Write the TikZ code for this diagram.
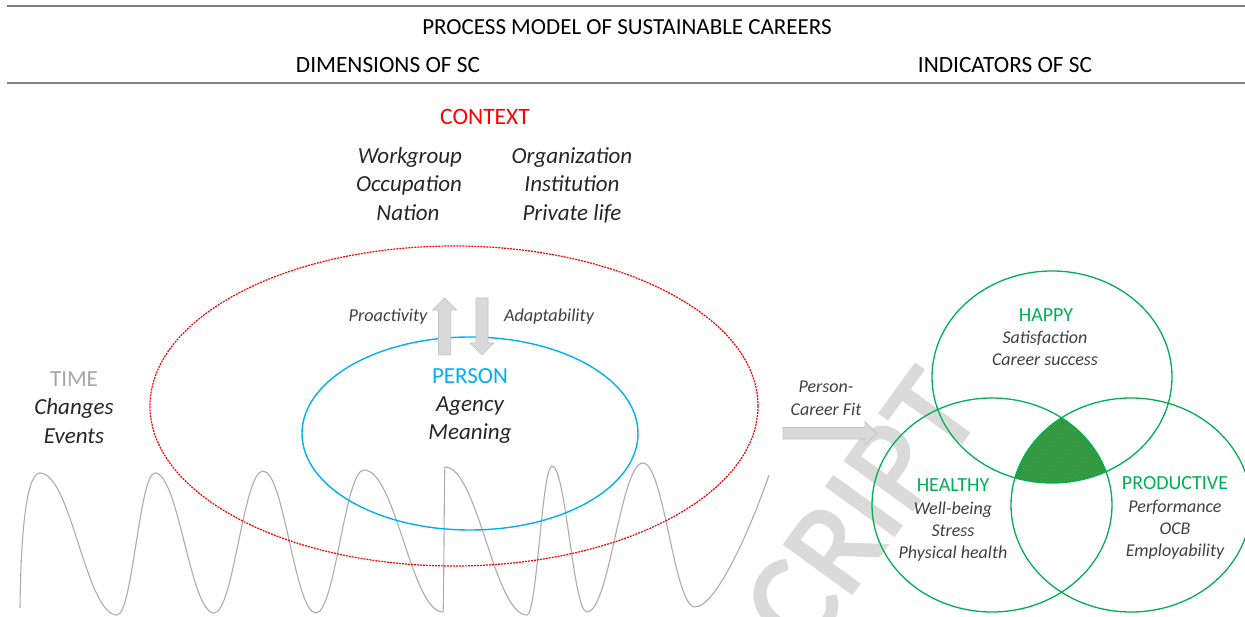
\documentclass[tikz,border=0pt]{standalone}
\usepackage{fontspec}
\setmainfont{Carlito}
\newfontfamily\wmfont[FakeBold=2]{Carlito}
\usetikzlibrary{patterns}
\definecolor{hdrline}{RGB}{128,128,128}
\definecolor{ctxred}{RGB}{255,0,0}
\definecolor{perblue}{RGB}{0,176,240}
\definecolor{scgreen}{RGB}{0,176,80}
\definecolor{timegray}{RGB}{166,166,166}
\definecolor{txtdark}{RGB}{38,38,38}
\definecolor{txtgray}{RGB}{64,64,64}
\definecolor{arrowfill}{RGB}{217,217,217}
\definecolor{arrowedge}{RGB}{195,195,195}
\definecolor{wmgray}{RGB}{218,218,218}
\definecolor{venncore}{RGB}{60,165,72}
\definecolor{vennhatch}{RGB}{40,130,52}
\definecolor{wavegray}{RGB}{172,172,172}
\begin{document}
\begin{tikzpicture}[x=1pt,y=-1pt,
  lbl/.style={inner sep=0pt, anchor=base},
  hdr/.style={lbl, font=\fontsize{23.3}{28}\selectfont, text=black},
  ctxitem/.style={lbl, font=\fontsize{23}{28}\selectfont\itshape, text=txtdark},
  small/.style={lbl, font=\fontsize{18.2}{22}\selectfont\itshape, text=txtgray},
  vennhead/.style={lbl, font=\fontsize{20}{24}\selectfont, text=scgreen},
  vennitem/.style={lbl, font=\fontsize{18}{22}\selectfont\itshape, text=txtgray},
  blockarrow/.style={fill=arrowfill, draw=arrowedge, line width=0.6pt},
  venn/.style={draw=scgreen, line width=1.3pt}
]
\useasboundingbox (0,0) rectangle (1245,617);
\clip (0,0) rectangle (1245,617);

% watermark
\begin{scope}[shift={(861,510)}]
\node[rotate=54, anchor=center, text=wmgray, inner sep=0pt,
      font=\wmfont\fontsize{130}{130}\selectfont] (wm) at (0,0) {CRIPT};
\end{scope}

% header
\coordinate (tl) at (7,6.5); \coordinate (tr) at (1245,6.5);
\coordinate (bl) at (7,83); \coordinate (br) at (1245,83);
\draw[hdrline, line width=2pt] (tl) -- (tr);
\draw[hdrline, line width=2pt] (bl) -- (br);
\node[hdr, font=\fontsize{23}{28}\selectfont] (title) at (627,34.3) {PROCESS MODEL OF SUSTAINABLE CAREERS};
\node[hdr] (dims) at (388,72.4) {DIMENSIONS OF SC};
\node[hdr] (inds) at (1005,72.4) {INDICATORS OF SC};

% context
\node[lbl, font=\fontsize{23.5}{28}\selectfont, text=ctxred] (context) at (485,124.4) {CONTEXT};
\node[ctxitem] (wg) at (410,164) {Workgroup};
\node[ctxitem] (occ) at (409,192) {Occupation};
\node[ctxitem] (nat) at (408,221) {Nation};
\node[ctxitem] (org) at (572,164) {Organization};
\node[ctxitem] (inst) at (572,192) {Institution};
\node[ctxitem] (priv) at (572,221) {Private life};

% wave (time)
\coordinate (w0) at (20,608);
\draw[wavegray, line width=1.1pt]
  (w0) .. controls (21,520) and (28,473) .. (40,473)
  .. controls (71,473) and (86,615) .. (117,615)
  .. controls (132.6,615) and (139.4,473) .. (155,473)
  .. controls (178.6,473) and (190.4,613) .. (214,613)
  .. controls (233.6,613) and (243.4,471) .. (263,471)
  .. controls (284.2,471) and (294.8,613) .. (316,613)
  .. controls (335.2,613) and (344.8,470) .. (364,470)
  .. controls (395.6,470) and (411.4,612) .. (443,612)
  .. controls (443.8,612) and (444.2,467) .. (445,467)
  .. controls (477.8,467) and (494.2,615) .. (527,615)
  .. controls (537,615) and (542,466) .. (552,466)
  .. controls (566,466) and (573,612) .. (587,612)
  .. controls (609.4,612) and (620.6,463) .. (643,463)
  .. controls (664,463) and (674,607) .. (695,607)
  .. controls (716,607) and (750,530) .. (769,475);

% context ellipse and person ellipse
\coordinate (ctxc) at (454,406);
\coordinate (perc) at (470,433.5);
\draw[ctxred, line width=1.2pt, dash pattern=on 2pt off 1pt] (ctxc) ellipse [x radius=304pt, y radius=160pt];
\draw[perblue, line width=1.4pt] (perc) ellipse [x radius=168pt, y radius=96.5pt];

% proactivity / adaptability arrows
\draw[blockarrow] (438.5,355) -- (438.5,310) -- (432.5,310) -- (444.6,298) -- (456.7,310) -- (450.7,310) -- (450.7,355) -- cycle;
\draw[blockarrow] (476,298) -- (488,298) -- (488,343) -- (494,343) -- (482,355) -- (470,343) -- (476,343) -- cycle;
\node[small] (proact) at (388,322) {Proactivity};
\node[small] (adapt) at (549,322) {Adaptability};

% person
\node[lbl, font=\fontsize{23}{28}\selectfont, text=perblue] (person) at (470,384) {PERSON};
\node[ctxitem] (agency) at (470,411) {Agency};
\node[ctxitem] (meaning) at (470,439) {Meaning};

% time
\node[lbl, font=\fontsize{23}{28}\selectfont, text=timegray] (time) at (74,387) {TIME};
\node[ctxitem] (changes) at (74,414) {Changes};
\node[ctxitem] (events) at (74,443) {Events};

% person-career fit arrow
\draw[blockarrow] (783,427.5) -- (865,427.5) -- (865,421.5) -- (877,433.3) -- (865,445) -- (865,439) -- (783,439) -- cycle;
\node[vennitem] (pcf1) at (826,393) {Person-};
\node[vennitem] (pcf2) at (826,415) {Career Fit};

% venn
\coordinate (hap) at (1052,377);
\coordinate (hea) at (992,505);
\coordinate (pro) at (1131,505);
\begin{scope}
  \clip (hap) ellipse [x radius=120pt, y radius=106pt];
  \clip (hea) ellipse [x radius=120pt, y radius=107pt];
  \fill[venncore] (pro) ellipse [x radius=120pt, y radius=107pt];
  \fill[pattern=north east lines, pattern color=vennhatch] (pro) ellipse [x radius=120pt, y radius=107pt];
\end{scope}
\draw[venn] (hap) ellipse [x radius=120pt, y radius=106pt];
\draw[venn] (hea) ellipse [x radius=120pt, y radius=107pt];
\draw[venn] (pro) ellipse [x radius=120pt, y radius=107pt];

\node[vennhead] (happy) at (1046,322) {HAPPY};
\node[vennitem] (sat) at (1045,344) {Satisfaction};
\node[vennitem] (cs) at (1045,366) {Career success};
\node[vennhead] (healthy) at (953,491) {HEALTHY};
\node[vennitem] (wb) at (953,514) {Well-being};
\node[vennitem] (stress) at (953,536) {Stress};
\node[vennitem] (ph) at (953,558) {Physical health};
\node[vennhead] (productive) at (1175,489) {PRODUCTIVE};
\node[vennitem] (perf) at (1175,512) {Performance};
\node[vennitem] (ocb) at (1175,534) {OCB};
\node[vennitem] (emp) at (1175,556) {Employability};
\end{tikzpicture}
\end{document}
